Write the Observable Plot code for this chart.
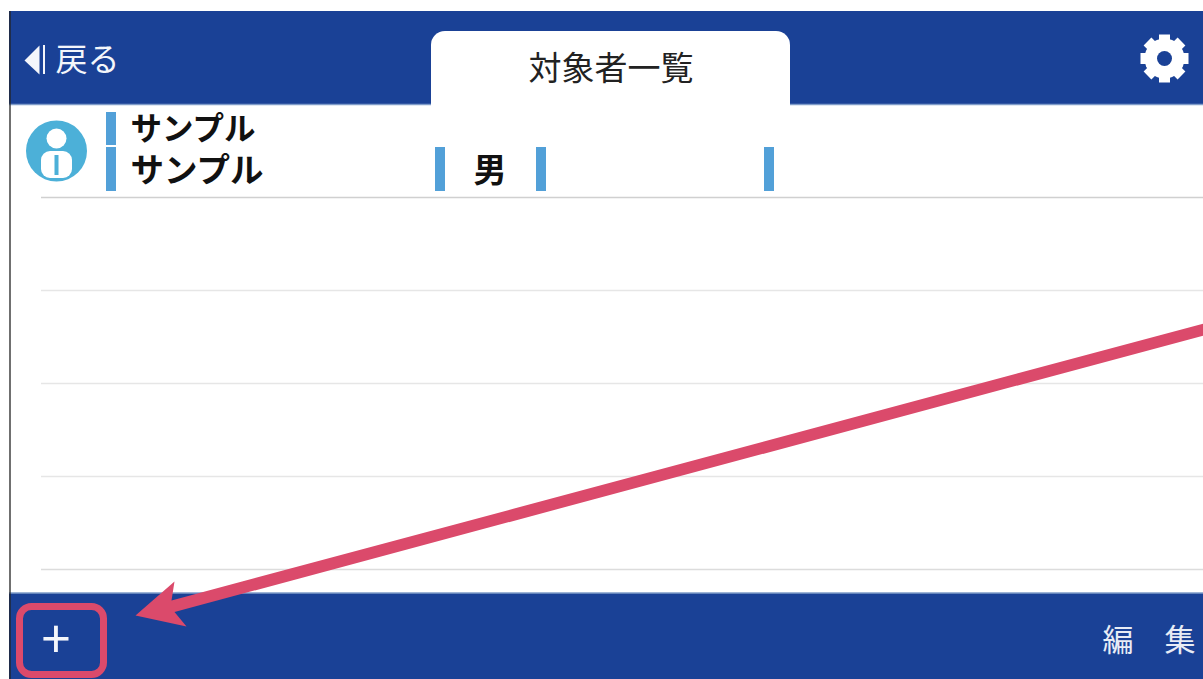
<!DOCTYPE html>
<html lang="ja">
<head>
<meta charset="utf-8">
<title>対象者一覧</title>
<script src="https://cdn.jsdelivr.net/npm/d3@7"></script>
<script src="https://cdn.jsdelivr.net/npm/@observablehq/plot@0.6"></script>
<style>
html,body{margin:0;padding:0;background:#fff;overflow:hidden}
svg{display:block}
</style>
</head>
<body>
<div id="chart"></div>
<script>
const bands = [{x1:9,x2:1203,y1:11,y2:104},{x1:9,x2:1203,y1:593,y2:679}];
const bandEdges = [104,592.5];
const tab = [{x1:431,x2:790,y1:31,y2:130}];
const rowRules = [197,290,383,476,569];
const rowRuleShades = ["#d0d0d0","#e6e6e6","#e6e6e6","#e6e6e6","#dcdcdc"];
const dividers = [
  {x1:106,x2:116,y1:112,y2:145},{x1:106,x2:116,y1:147,y2:191},
  {x1:435,x2:445,y1:147,y2:191},{x1:536,x2:546,y1:147,y2:191},{x1:764,x2:774,y1:147,y2:191}
];
const backTriangle = [{x:24,y:60},{x:39,y:45},{x:39,y:74}];
const arrowPoints = [
  {x:1203,y:323},{x:171,y:600},{x:174,y:581},{x:135,y:615},{x:186,y:626},{x:174,y:611.5},{x:1203,y:335}
];
const gearTeeth = [
  {x1:1140,y1:58,x2:1188,y2:58},{x1:1164,y1:34,x2:1164,y2:82},
  {x1:1147,y1:41,x2:1181,y2:75},{x1:1147,y1:75,x2:1181,y2:41}
];
const regularLabels = [
  {t:"戻る",x:55,y:60,s:32,c:"#f4f6fb"},
  {t:"対象者一覧",x:528,y:69,s:33,c:"#222222"},
  {t:"編　集",x:1102,y:641,s:31,c:"#e8ecf5"},
  {t:"+",x:41,y:641,s:52,c:"#f4f6fb"}
];
const boldLabels = [
  {t:"サンプル",x:130,y:129,s:31.5,c:"#111111"},
  {t:"サンプル",x:130,y:171,s:33.5,c:"#111111"},
  {t:"男",x:473,y:171,s:33,c:"#111111"}
];

const navy = "#1a4196", red = "#db4a6b", sky = "#52a0d8", badge = "#4cb0d8";
const jp = "'Noto Sans CJK JP','Noto Sans',sans-serif";

const chart = Plot.plot({
  width:1203, height:679, margin:0,
  x:{domain:[0,1203],range:[0,1203],axis:null},
  y:{domain:[0,679],range:[0,679],axis:null},
  marks:[
    Plot.rect(bands,{x1:"x1",x2:"x2",y1:"y1",y2:"y2",fill:navy}),
    Plot.ruleY(bandEdges,{x1:9,x2:1203,stroke:"#7f9cc9",strokeWidth:1.5}),
    Plot.ruleX([9.5],{y1:11,y2:679,stroke:"#222",strokeWidth:1.3}),
    Plot.rect(tab,{x1:"x1",x2:"x2",y1:"y1",y2:"y2",fill:"#fff",rx:14}),
    Plot.ruleY(rowRules,{x1:41,x2:1203,stroke:(d,i)=>rowRuleShades[i],strokeWidth:1.5}),
    Plot.rect(dividers,{x1:"x1",x2:"x2",y1:"y1",y2:"y2",fill:sky}),
    Plot.dot([{x:56,y:150.5}],{x:"x",y:"y",r:30.5,fill:badge}),
    Plot.dot([{x:56,y:138}],{x:"x",y:"y",r:10,fill:"#fff"}),
    Plot.rect([{x1:41,x2:72,y1:151,y2:178}],{x1:"x1",x2:"x2",y1:"y1",y2:"y2",fill:"#fff",rx:9}),
    Plot.rect([{x1:54.5,x2:58.5,y1:155,y2:175}],{x1:"x1",x2:"x2",y1:"y1",y2:"y2",fill:badge}),
    Plot.line(backTriangle,{x:"x",y:"y",fill:"#f4f6fb",stroke:"none"}),
    Plot.ruleX([43.5],{y1:45,y2:74,stroke:"#f4f6fb",strokeWidth:2}),
    Plot.link(gearTeeth,{x1:"x1",y1:"y1",x2:"x2",y2:"y2",stroke:"#fff",strokeWidth:11,strokeLinecap:"butt"}),
    Plot.dot([{x:1164,y:58}],{x:"x",y:"y",r:20,fill:"#fff"}),
    Plot.dot([{x:1164,y:58}],{x:"x",y:"y",r:7.5,fill:navy}),
    Plot.text(regularLabels,{x:"x",y:"y",text:"t",fontSize:d=>d.s,fontWeight:400,fill:d=>d.c,textAnchor:"start",lineAnchor:"middle",fontFamily:jp}),
    Plot.text(boldLabels,{x:"x",y:"y",text:"t",fontSize:d=>d.s,fontWeight:700,fill:d=>d.c,textAnchor:"start",lineAnchor:"middle",fontFamily:jp}),
    Plot.rect([{x1:19.5,x2:103.5,y1:606.5,y2:674.5}],{x1:"x1",x2:"x2",y1:"y1",y2:"y2",fill:"none",stroke:red,strokeWidth:7,rx:12}),
    Plot.line(arrowPoints,{x:"x",y:"y",fill:red,stroke:"none"})
  ]
});
document.getElementById("chart").append(chart);
</script>
</body>
</html>
